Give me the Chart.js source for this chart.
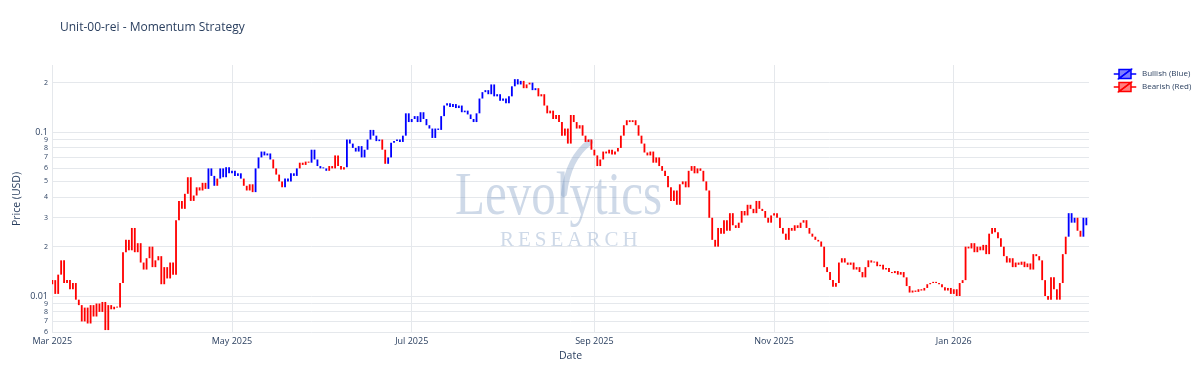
<!DOCTYPE html>
<html>
<head>
<meta charset="utf-8">
<title>Unit-00-rei - Momentum Strategy</title>
<script src="https://cdn.jsdelivr.net/npm/chart.js@4.4.1/dist/chart.umd.min.js"></script>
<style>
    html, body { margin: 0; padding: 0; background: #fff; }
</style>
</head>
<body>
<canvas id="momentumChart" width="1200" height="386"></canvas>
<script>
// daily closes from 2025-03-01, one per day
var startDate = '2025-03-01';
var firstOpen = 0.0118;
var closes = [
    // Mar 2025
    0.0125, 0.0103, 0.0135, 0.0165, 0.0120, 0.0125, 0.0110, 0.0120, 0.0095, 0.0088,
    0.0070, 0.0085, 0.0068, 0.0088, 0.0075, 0.0090, 0.0080, 0.0092, 0.0062, 0.0088,
    0.0083, 0.0086, 0.0085, 0.0120, 0.0185, 0.0220, 0.0190, 0.0260, 0.0185, 0.0210,
    0.0160,
    // Apr
    0.0145, 0.0170, 0.0200, 0.0150, 0.0165, 0.0175, 0.0118, 0.0150, 0.0128, 0.0160,
    0.0135, 0.0290, 0.0380, 0.0340, 0.0420, 0.0530, 0.0380, 0.0410, 0.0460, 0.0440,
    0.0490, 0.0450, 0.0600, 0.0540, 0.0470, 0.0520, 0.0600, 0.0530, 0.0610, 0.0560,
    // May
    0.0580, 0.0540, 0.0560, 0.0520, 0.0470, 0.0440, 0.0480, 0.0430, 0.0600, 0.0700,
    0.0760, 0.0720, 0.0740, 0.0680, 0.0600, 0.0550, 0.0500, 0.0460, 0.0520, 0.0500,
    0.0560, 0.0540, 0.0600, 0.0650, 0.0630, 0.0660, 0.0650, 0.0780, 0.0680, 0.0620,
    0.0600,
    // Jun
    0.0600, 0.0580, 0.0620, 0.0600, 0.0720, 0.0620, 0.0590, 0.0610, 0.0900, 0.0850,
    0.0800, 0.0760, 0.0820, 0.0700, 0.0780, 0.0900, 0.1030, 0.0950, 0.0880, 0.0900,
    0.0780, 0.0640, 0.0700, 0.0860, 0.0880, 0.0900, 0.0870, 0.0950, 0.1300, 0.1150,
    // Jul
    0.1200, 0.1250, 0.1150, 0.1320, 0.1200, 0.1100, 0.1050, 0.0920, 0.1050, 0.1030,
    0.1250, 0.1450, 0.1500, 0.1420, 0.1480, 0.1400, 0.1450, 0.1320, 0.1350, 0.1280,
    0.1200, 0.1150, 0.1300, 0.1600, 0.1750, 0.1800, 0.1700, 0.1950, 0.1650, 0.1700,
    0.1550,
    // Aug
    0.1600, 0.1500, 0.1650, 0.1900, 0.2100, 0.1950, 0.2050, 0.1850, 0.1950, 0.2000,
    0.1800, 0.1850, 0.1650, 0.1700, 0.1450, 0.1300, 0.1350, 0.1200, 0.1270, 0.1150,
    0.0950, 0.1050, 0.0850, 0.1270, 0.1150, 0.1050, 0.1100, 0.0950, 0.0870, 0.0900,
    0.0780,
    // Sep
    0.0720, 0.0620, 0.0680, 0.0760, 0.0740, 0.0780, 0.0730, 0.0760, 0.0800, 0.0950,
    0.1100, 0.1180, 0.1150, 0.1180, 0.1100, 0.0950, 0.0850, 0.0750, 0.0720, 0.0760,
    0.0650, 0.0700, 0.0620, 0.0580, 0.0540, 0.0460, 0.0380, 0.0440, 0.0360, 0.0480,
    // Oct
    0.0500, 0.0460, 0.0580, 0.0620, 0.0560, 0.0600, 0.0580, 0.0500, 0.0440, 0.0300,
    0.0220, 0.0200, 0.0260, 0.0240, 0.0290, 0.0250, 0.0320, 0.0270, 0.0260, 0.0280,
    0.0330, 0.0310, 0.0360, 0.0340, 0.0320, 0.0380, 0.0340, 0.0330, 0.0300, 0.0280,
    0.0310,
    // Nov
    0.0320, 0.0300, 0.0260, 0.0240, 0.0220, 0.0260, 0.0250, 0.0270, 0.0260, 0.0280,
    0.0290, 0.0260, 0.0240, 0.0230, 0.0220, 0.0215, 0.0200, 0.0150, 0.0140, 0.0125,
    0.0114, 0.0120, 0.0160, 0.0170, 0.0160, 0.0155, 0.0160, 0.0145, 0.0150, 0.0140,
    // Dec
    0.0130, 0.0150, 0.0165, 0.0160, 0.0162, 0.0152, 0.0155, 0.0145, 0.0148, 0.0140,
    0.0138, 0.0142, 0.0135, 0.0140, 0.0130, 0.0115, 0.0105, 0.0108, 0.0106, 0.0110,
    0.0108, 0.0112, 0.0118, 0.0120, 0.0122, 0.0120, 0.0118, 0.0113, 0.0108, 0.0112,
    0.0103,
    // Jan 2026
    0.0110, 0.0100, 0.0120, 0.0125, 0.0200, 0.0195, 0.0210, 0.0185, 0.0200, 0.0190,
    0.0205, 0.0180, 0.0240, 0.0260, 0.0245, 0.0225, 0.0200, 0.0175, 0.0160, 0.0170,
    0.0150, 0.0160, 0.0155, 0.0162, 0.0150, 0.0158, 0.0145, 0.0180, 0.0175, 0.0165,
    0.0125,
    // Feb
    0.0100, 0.0095, 0.0130, 0.0110, 0.0095, 0.0120, 0.0180, 0.0230, 0.0320, 0.0280,
    0.0300, 0.0250, 0.0230, 0.0300, 0.0270
];

// periods flagged bullish by the strategy (inclusive), everything else is bearish
var bullishRanges = [
    ['2025-04-23', '2025-04-25'],
    ['2025-04-27', '2025-05-04'],
    ['2025-05-09', '2025-05-14'],
    ['2025-05-19', '2025-05-23'],
    ['2025-05-28', '2025-06-02'],
    ['2025-06-09', '2025-06-20'],
    ['2025-06-23', '2025-08-07'],
    ['2025-08-11', '2025-08-12'],
    ['2026-02-09', '2026-02-11'],
    ['2026-02-14', '2026-02-15']
];

var xTickDates = ['2025-03-01', '2025-05-01', '2025-07-01', '2025-09-01', '2025-11-01', '2026-01-01'];
var xTickLabels = ['Mar 2025', 'May 2025', 'Jul 2025', 'Sep 2025', 'Nov 2025', 'Jan 2026'];
var yTickValues = [0.006, 0.007, 0.008, 0.009, 0.01, 0.02, 0.03, 0.04, 0.05, 0.06, 0.07, 0.08, 0.09, 0.1, 0.2];
var yTickLabels = ['6', '7', '8', '9', '0.01', '2', '3', '4', '5', '6', '7', '8', '9', '0.1', '2'];

var DAY = 86400000;
var textColor = '#2a3f5f';
var gridColor = '#e5e8ec';
var fontFamily = '"Open Sans", "Noto Sans", Arial, sans-serif';

function toMs(s) {
    var p = s.split('-');
    return Date.UTC(+p[0], +p[1] - 1, +p[2]);
}

var t0 = toMs(startDate);
var bullishPts = [];
var bearishPts = [];
closes.forEach(function (c, i) {
    var t = t0 + i * DAY;
    var o = i === 0 ? firstOpen : closes[i - 1];
    var bull = bullishRanges.some(function (r) { return t >= toMs(r[0]) && t <= toMs(r[1]); });
    (bull ? bullishPts : bearishPts).push({ x: t, y: [o, c] });
});

// plotly style candlestick legend icon
function candleIcon(line, fill) {
    var c = document.createElement('canvas');
    c.width = 44;
    c.height = 12;
    var g = c.getContext('2d');
    g.translate(31, 6);
    g.scale(0.75, 0.75);
    g.strokeStyle = line;
    g.fillStyle = fill;
    g.lineWidth = 2;
    g.beginPath();
    g.moveTo(-15, 0); g.lineTo(-8, 0);
    g.moveTo(-8, 6); g.lineTo(-8, -6); g.lineTo(8, -6); g.closePath();
    g.fill(); g.stroke();
    g.beginPath();
    g.moveTo(15, 0); g.lineTo(8, 0);
    g.moveTo(8, -6); g.lineTo(8, 6); g.lineTo(-8, 6); g.closePath();
    g.fill(); g.stroke();
    return c;
}
var legendIcons = [candleIcon('#0000ff', 'rgba(0,0,255,0.5)'), candleIcon('#ff0000', 'rgba(255,0,0,0.5)')];

var watermark = {
    id: 'watermark',
    beforeDatasetsDraw: function (chart) {
        var g = chart.ctx;
        g.save();
        g.fillStyle = 'rgba(120,150,190,0.36)';
        g.strokeStyle = 'rgba(120,150,190,0.36)';
        g.font = '62px "Liberation Serif", "DejaVu Serif", serif';
        g.textAlign = 'left';
        g.textBaseline = 'alphabetic';
        var w = g.measureText('Levolytics').width;
        g.save();
        g.translate(455, 214);
        g.scale(207 / w, 1);
        g.fillText('Levolytics', 0, 0);
        g.restore();
        g.font = '21px "Liberation Serif", "DejaVu Serif", serif';
        g.letterSpacing = '4px';
        g.fillText('RESEARCH', 500, 246);
        g.letterSpacing = '0px';
        // swoosh
        g.lineCap = 'round';
        g.lineWidth = 6;
        g.beginPath();
        g.moveTo(590, 142);
        g.quadraticCurveTo(568, 158, 564, 194);
        g.stroke();
        g.restore();
    }
};

var shiftTitle = {
    id: 'shiftTitle',
    afterLayout: function (chart) {
        if (chart.titleBlock) chart.titleBlock.left = 60;
    }
};

var ctx = document.getElementById('momentumChart').getContext('2d');
var chart = new Chart(ctx, {
    type: 'bar',
    data: {
        datasets: [{
            label: 'Bullish (Blue)',
            data: bullishPts,
            backgroundColor: '#0000ff',
            borderWidth: 0
        }, {
            label: 'Bearish (Red)',
            data: bearishPts,
            backgroundColor: '#ff0000',
            borderWidth: 0
        }]
    },
    options: {
        responsive: false,
        animation: false,
        devicePixelRatio: 1,
        grouped: false,
        barPercentage: 0.62,
        categoryPercentage: 1,
        minBarLength: 1,
        layout: { padding: 0 },
        scales: {
            x: {
                type: 'linear',
                offset: false,
                min: t0 - 0.1 * DAY,
                max: t0 + 351.9 * DAY,
                afterBuildTicks: function (scale) {
                    scale.ticks = xTickDates.map(function (d) { return { value: toMs(d) }; });
                },
                afterFit: function (scale) { scale.height = 53; },
                ticks: {
                    autoSkip: false,
                    maxRotation: 0,
                    padding: 3,
                    color: textColor,
                    font: { family: fontFamily, size: 9 },
                    callback: function (value) {
                        var i = xTickDates.map(toMs).indexOf(value);
                        return i >= 0 ? xTickLabels[i] : '';
                    }
                },
                grid: { color: gridColor, offset: false, drawTicks: false },
                border: { display: false },
                title: {
                    display: true,
                    text: 'Date',
                    color: textColor,
                    font: { family: fontFamily, size: 10.5 },
                    padding: { top: 0, bottom: 24 }
                }
            },
            y: {
                type: 'logarithmic',
                min: 0.00595,
                max: 0.2562,
                afterBuildTicks: function (scale) {
                    scale.ticks = yTickValues.map(function (v) { return { value: v }; });
                },
                afterFit: function (scale) { scale.width = 52; },
                ticks: {
                    autoSkip: false,
                    padding: 4,
                    color: textColor,
                    font: function (c) {
                        var i = c.tick ? yTickValues.indexOf(c.tick.value) : -1;
                        var major = i >= 0 && yTickLabels[i].indexOf('.') >= 0;
                        return { family: fontFamily, size: major ? 9 : 7 };
                    },
                    callback: function (value) {
                        var i = yTickValues.indexOf(value);
                        return i >= 0 ? yTickLabels[i] : '';
                    }
                },
                grid: { color: gridColor, drawTicks: false },
                border: { display: false },
                title: {
                    display: true,
                    text: 'Price (USD)',
                    color: textColor,
                    font: { family: fontFamily, size: 10.5 },
                    padding: { top: 11, bottom: 0 }
                }
            }
        },
        plugins: {
            title: {
                display: true,
                text: 'Unit-00-rei - Momentum Strategy',
                align: 'start',
                color: textColor,
                font: { family: fontFamily, size: 12, weight: 'normal' },
                padding: { top: 20, bottom: 30.6 }
            },
            legend: {
                position: 'right',
                align: 'start',
                fullSize: false,
                maxWidth: 111,
                labels: {
                    usePointStyle: true,
                    pointStyleWidth: 44,
                    padding: 5,
                    color: textColor,
                    font: { family: fontFamily, size: 8 },
                    generateLabels: function (chart) {
                        return chart.data.datasets.map(function (ds, i) {
                            return {
                                text: ds.label,
                                pointStyle: legendIcons[i],
                                fontColor: textColor,
                                fillStyle: 'transparent',
                                strokeStyle: 'transparent',
                                lineWidth: 0,
                                hidden: false,
                                datasetIndex: i
                            };
                        });
                    }
                }
            },
            tooltip: { enabled: false }
        }
    },
    plugins: [watermark, shiftTitle]
});
</script>
</body>
</html>
